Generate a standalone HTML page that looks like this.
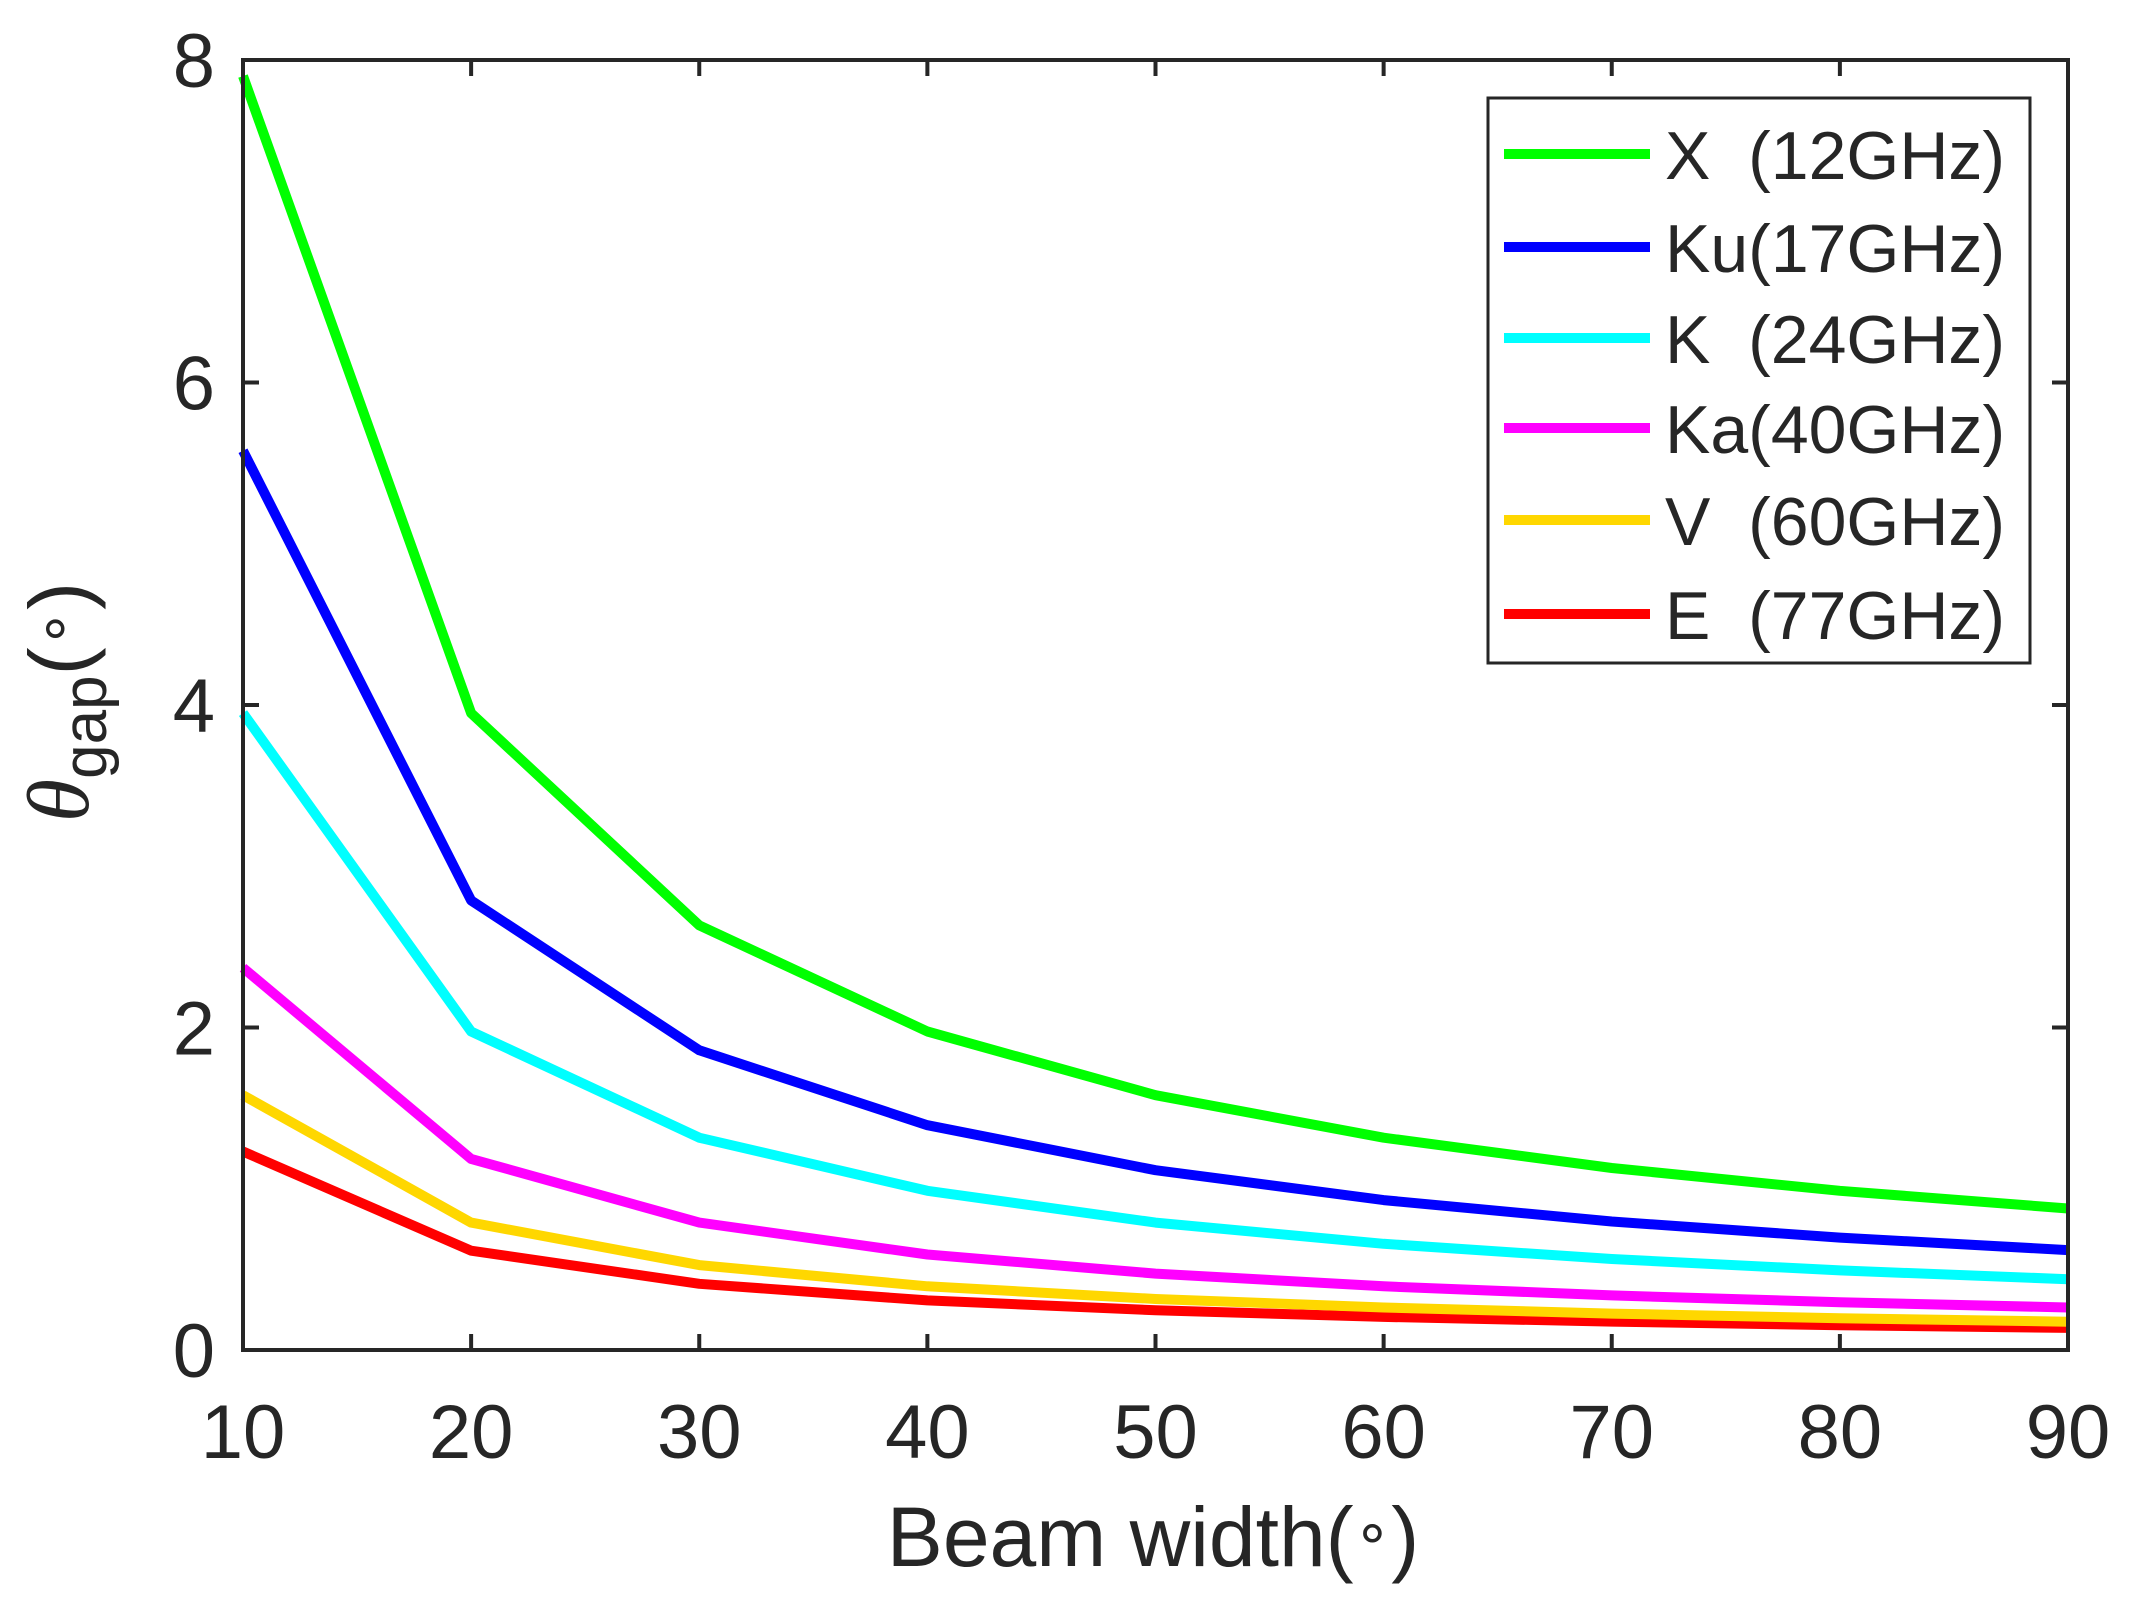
<!DOCTYPE html>
<html><head><meta charset="utf-8"><style>
html,body{margin:0;padding:0;background:#fff;}
svg{display:block;}
text{font-family:"Liberation Sans",sans-serif;fill:#262626;}
</style></head><body>
<svg width="2139" height="1615" viewBox="0 0 2139 1615" xmlns="http://www.w3.org/2000/svg">
<rect width="2139" height="1615" fill="#fff"/>
<g id="series" fill="none" stroke-width="10" stroke-linejoin="round"></g>
<g stroke="#262626" stroke-width="4" fill="none">
<rect x="243" y="60" width="1825" height="1290"/>
<path id="ticks" d=""/>
</g>
<g font-size="76" text-anchor="middle" id="xt"></g>
<g font-size="76" text-anchor="end" id="yt"></g>
<text x="1153" y="1566" font-size="84" text-anchor="middle">Beam width(<tspan font-size="60" dy="-14">∘</tspan><tspan dy="14">)</tspan></text>
<g transform="translate(88,702) rotate(-90)">
<text x="0" y="0" font-size="84" text-anchor="middle"><tspan font-family="Liberation Serif" font-style="italic" font-size="88">θ</tspan><tspan font-size="62" dy="18">gap</tspan><tspan dy="-18">(</tspan><tspan font-size="60" dy="-14">∘</tspan><tspan dy="14">)</tspan></text>
</g>
<rect x="1488" y="98" width="542" height="565" fill="#fff" stroke="#262626" stroke-width="3"/>
<g id="leg" font-size="68"></g>
</svg>
<script>
const L=243,R=2068,T=60,B=1350;
const X=v=>L+(v-10)/80*(R-L), Y=v=>B-v/8*(B-T);
const ser=[[12,'#00ff00','X  (12GHz)'],[17,'#0000ff','Ku(17GHz)'],[24,'#00ffff','K  (24GHz)'],[40,'#ff00ff','Ka(40GHz)'],[60,'#ffd700','V  (60GHz)'],[77,'#ff0000','E  (77GHz)']];
const ns='http://www.w3.org/2000/svg';
const g=document.getElementById('series');
ser.slice().reverse().forEach(([f,c])=>{let p=[];for(let b=10;b<=90;b+=10)p.push(X(b).toFixed(1)+','+Y(948/(f*b)).toFixed(1));
let e=document.createElementNS(ns,'polyline');e.setAttribute('points',p.join(' '));e.setAttribute('stroke',c);g.appendChild(e);});
let d='';for(let b=20;b<=80;b+=10){d+=`M${X(b)},${B}v-16M${X(b)},${T}v16`;}
for(let v=2;v<=6;v+=2){d+=`M${L},${Y(v)}h16M${R},${Y(v)}h-16`;}
document.getElementById('ticks').setAttribute('d',d);
const xt=document.getElementById('xt');for(let b=10;b<=90;b+=10){let t=document.createElementNS(ns,'text');t.setAttribute('x',X(b));t.setAttribute('y',1458);t.textContent=b;xt.appendChild(t);}
const yt=document.getElementById('yt');for(let v=0;v<=8;v+=2){let t=document.createElementNS(ns,'text');t.setAttribute('x',215);t.setAttribute('y',Y(v)+27);t.textContent=v;yt.appendChild(t);}
const lg=document.getElementById('leg');const ys=[154,247,338,428,520,614];
ser.forEach(([f,c,s],i)=>{let l=document.createElementNS(ns,'line');l.setAttribute('x1',1504);l.setAttribute('x2',1650);l.setAttribute('y1',ys[i]);l.setAttribute('y2',ys[i]);l.setAttribute('stroke',c);l.setAttribute('stroke-width',10);lg.appendChild(l);
let t=document.createElementNS(ns,'text');t.setAttribute('x',1665);t.setAttribute('y',ys[i]+25);t.setAttribute('fill','#000');t.style.whiteSpace='pre';t.textContent=s;lg.appendChild(t);});
</script>
</body></html>
